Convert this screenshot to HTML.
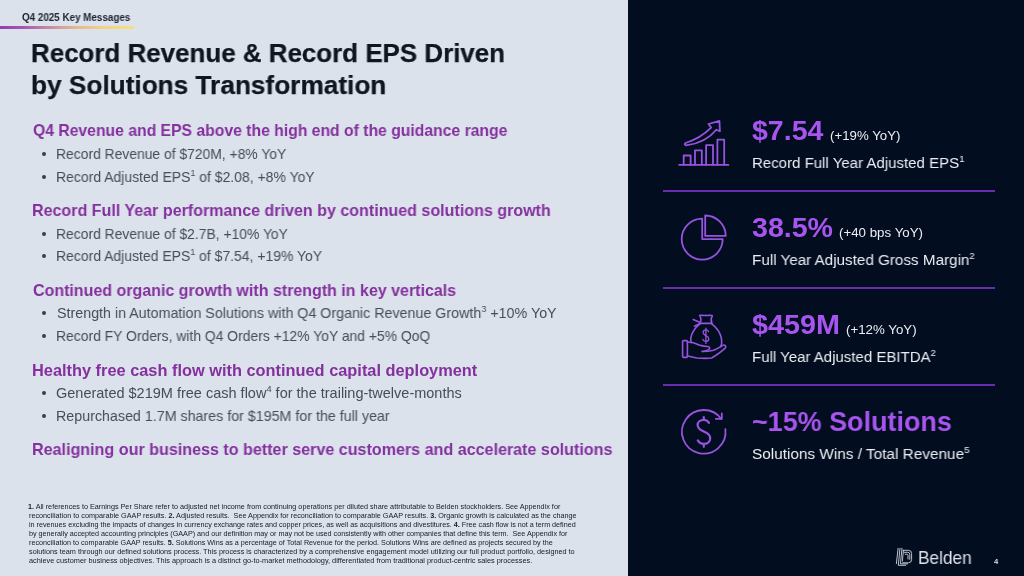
<!DOCTYPE html>
<html><head><meta charset="utf-8"><title>Q4 2025 Key Messages</title>
<style>
html,body{margin:0;padding:0;background:#dbe2eb}
body{width:1024px;height:576px;position:relative;overflow:hidden;background:#dbe2eb;font-family:"Liberation Sans",sans-serif}
.t{position:absolute;white-space:nowrap;line-height:1;margin:0;will-change:transform}
.sup{position:relative;display:inline-block;line-height:0}
.panel{position:absolute;left:628px;top:0;width:396px;height:576px;background:#020d20}
.bar{position:absolute;left:0;top:26.4px;width:134.4px;height:2.7px;border-radius:0 1.3px 1.3px 0;background:linear-gradient(90deg,#933db3 0%,#a85aae 18%,#c78fa3 38%,#e3bb90 58%,#f0d484 78%,#f6e07c 100%)}
.dot{position:absolute;width:3.8px;height:3.8px;border-radius:50%;background:#3a3f48;left:42.3px}
.div{position:absolute;left:662.5px;width:332px;height:1.6px;background:#6a2cae}
svg{position:absolute;overflow:visible}
</style></head><body>
<div class="panel"></div>
<div class="bar"></div>

<div class="dot" style="top:152.00px"></div>
<div class="dot" style="top:175.00px"></div>
<div class="dot" style="top:232.00px"></div>
<div class="dot" style="top:254.00px"></div>
<div class="dot" style="top:311.00px"></div>
<div class="dot" style="top:334.00px"></div>
<div class="dot" style="top:391.00px"></div>
<div class="dot" style="top:414.00px"></div>
<div class="div" style="top:189.95px"></div>
<div class="div" style="top:286.95px"></div>
<div class="div" style="top:383.95px"></div>
<div class="t" id="tag" style="left:22.15px;top:13.31px;font-size:10.1px;font-weight:700;color:#1b2230;letter-spacing:0.0000px;transform-origin:0 0;transform:scaleX(0.97488);">Q4 2025 Key Messages</div>
<div class="t" id="t1" style="left:30.87px;top:40.01px;font-size:26.5px;font-weight:700;color:#10161f;letter-spacing:0.0000px;transform-origin:0 0;transform:scaleX(0.97843);-webkit-text-stroke:0.25px #10161f;">Record Revenue &amp; Record EPS Driven</div>
<div class="t" id="t2" style="left:30.63px;top:72.01px;font-size:26.5px;font-weight:700;color:#10161f;letter-spacing:0.0000px;transform-origin:0 0;transform:scaleX(0.98907);-webkit-text-stroke:0.25px #10161f;">by Solutions Transformation</div>
<div class="t" id="h1" style="left:32.99px;top:122.01px;font-size:16.3px;font-weight:700;color:#85309f;letter-spacing:0.0000px;transform-origin:0 0;transform:scaleX(0.96568);">Q4 Revenue and EPS above the high end of the guidance range</div>
<div class="t" id="b1" style="left:55.97px;top:147.00px;font-size:14.3px;font-weight:400;color:#474c55;letter-spacing:0.0000px;transform-origin:0 0;transform:scaleX(0.97066);">Record Revenue of $720M, +8% YoY</div>
<div class="t" id="b2" style="left:55.97px;top:170.00px;font-size:14.3px;font-weight:400;color:#474c55;letter-spacing:0.0000px;transform-origin:0 0;transform:scaleX(0.97733);">Record Adjusted EPS<span class="sup" style="font-size:0.64em;top:-0.625em">1</span> of $2.08, +8% YoY</div>
<div class="t" id="h2" style="left:32.27px;top:202.01px;font-size:16.3px;font-weight:700;color:#85309f;letter-spacing:0.0000px;transform-origin:0 0;transform:scaleX(0.98577);">Record Full Year performance driven by continued solutions growth</div>
<div class="t" id="b3" style="left:55.97px;top:227.00px;font-size:14.3px;font-weight:400;color:#474c55;letter-spacing:0.0000px;transform-origin:0 0;transform:scaleX(0.97084);">Record Revenue of $2.7B, +10% YoY</div>
<div class="t" id="b4" style="left:55.97px;top:249.00px;font-size:14.3px;font-weight:400;color:#474c55;letter-spacing:0.0000px;transform-origin:0 0;transform:scaleX(0.97636);">Record Adjusted EPS<span class="sup" style="font-size:0.64em;top:-0.625em">1</span> of $7.54, +19% YoY</div>
<div class="t" id="h3" style="left:33.01px;top:282.01px;font-size:16.3px;font-weight:700;color:#85309f;letter-spacing:0.0000px;transform-origin:0 0;transform:scaleX(0.98247);">Continued organic growth with strength in key verticals</div>
<div class="t" id="b5" style="left:56.62px;top:306.00px;font-size:14.3px;font-weight:400;color:#474c55;letter-spacing:0.0000px;transform-origin:0 0;transform:scaleX(0.99790);">Strength in Automation Solutions with Q4 Organic Revenue Growth<span class="sup" style="font-size:0.64em;top:-0.625em">3</span> +10% YoY</div>
<div class="t" id="b6" style="left:55.97px;top:329.00px;font-size:14.3px;font-weight:400;color:#474c55;letter-spacing:0.0000px;transform-origin:0 0;transform:scaleX(0.97239);">Record FY Orders, with Q4 Orders +12% YoY and +5% QoQ</div>
<div class="t" id="h4" style="left:32.26px;top:362.01px;font-size:16.3px;font-weight:700;color:#85309f;letter-spacing:0.0000px;transform-origin:0 0;transform:scaleX(1.00452);">Healthy free cash flow with continued capital deployment</div>
<div class="t" id="b7" style="left:56.14px;top:386.00px;font-size:14.3px;font-weight:400;color:#474c55;letter-spacing:0.0000px;transform-origin:0 0;transform:scaleX(1.01431);">Generated $219M free cash flow<span class="sup" style="font-size:0.64em;top:-0.625em">4</span> for the trailing-twelve-months</div>
<div class="t" id="b8" style="left:55.97px;top:409.00px;font-size:14.3px;font-weight:400;color:#474c55;letter-spacing:0.0000px;transform-origin:0 0;transform:scaleX(0.99741);">Repurchased 1.7M shares for $195M for the full year</div>
<div class="t" id="h5" style="left:32.27px;top:441.01px;font-size:16.3px;font-weight:700;color:#85309f;letter-spacing:0.0000px;transform-origin:0 0;transform:scaleX(0.98846);">Realigning our business to better serve customers and accelerate solutions</div>
<div class="t" id="f0" style="left:28.31px;top:503.36px;font-size:7.2px;font-weight:400;color:#141a23;letter-spacing:0.0000px;transform-origin:0 0;transform:scaleX(1.00704);"><b>1.</b> All references to Earnings Per Share refer to adjusted net income from continuing operations per diluted share attributable to Belden stockholders. See Appendix for</div>
<div class="t" id="f1" style="left:28.90px;top:512.36px;font-size:7.2px;font-weight:400;color:#141a23;letter-spacing:0.0000px;transform-origin:0 0;transform:scaleX(1.00683);">reconciliation to comparable GAAP results. <b>2.</b> Adjusted results.&nbsp; See Appendix for reconciliation to comparable GAAP results. <b>3.</b> Organic growth is calculated as the change</div>
<div class="t" id="f2" style="left:28.95px;top:521.36px;font-size:7.2px;font-weight:400;color:#141a23;letter-spacing:0.0000px;transform-origin:0 0;transform:scaleX(1.00105);">in revenues excluding the impacts of changes in currency exchange rates and copper prices, as well as acquisitions and divestitures. <b>4.</b> Free cash flow is not a term defined</div>
<div class="t" id="f3" style="left:28.98px;top:530.36px;font-size:7.2px;font-weight:400;color:#141a23;letter-spacing:0.0000px;transform-origin:0 0;transform:scaleX(1.00191);">by generally accepted accounting principles (GAAP) and our definition may or may not be used consistently with other companies that define this term.&nbsp; See Appendix for</div>
<div class="t" id="f4" style="left:28.90px;top:539.36px;font-size:7.2px;font-weight:400;color:#141a23;letter-spacing:0.0000px;transform-origin:0 0;transform:scaleX(1.00099);">reconciliation to comparable GAAP results. <b>5.</b> Solutions Wins as a percentage of Total Revenue for the period. Solutions Wins are defined as projects secured by the</div>
<div class="t" id="f5" style="left:28.68px;top:548.36px;font-size:7.2px;font-weight:400;color:#141a23;letter-spacing:0.0000px;transform-origin:0 0;transform:scaleX(1.01191);">solutions team through our defined solutions process. This process is characterized by a comprehensive engagement model utilizing our full product portfolio, designed to</div>
<div class="t" id="f6" style="left:28.52px;top:557.36px;font-size:7.2px;font-weight:400;color:#141a23;letter-spacing:0.0000px;transform-origin:0 0;transform:scaleX(1.02073);">achieve customer business objectives. This approach is a distinct go-to-market methodology, differentiated from traditional product-centric sales processes.</div>
<div class="t" id="r0a" style="left:751.75px;top:117.00px;font-size:28px;font-weight:700;color:#a855f0;letter-spacing:0.0000px;transform-origin:0 0;transform:scaleX(1.01846);">$7.54</div>
<div class="t" id="r0b" style="left:829.89px;top:129.00px;font-size:13.2px;font-weight:400;color:#eceef3;letter-spacing:0.0000px;transform-origin:0 0;transform:scaleX(1.00576);">(+19% YoY)</div>
<div class="t" id="r0c" style="left:752.00px;top:155.01px;font-size:15.4px;font-weight:400;color:#eceef3;letter-spacing:0.0000px;transform-origin:0 0;transform:scaleX(0.97596);">Record Full Year Adjusted EPS<span class="sup" style="font-size:0.64em;top:-0.625em">1</span></div>
<div class="t" id="r1a" style="left:751.89px;top:214.00px;font-size:28px;font-weight:700;color:#a855f0;letter-spacing:0.0000px;transform-origin:0 0;transform:scaleX(1.02046);">38.5%</div>
<div class="t" id="r1b" style="left:838.87px;top:226.00px;font-size:13.2px;font-weight:400;color:#eceef3;letter-spacing:0.0000px;transform-origin:0 0;transform:scaleX(1.00950);">(+40 bps YoY)</div>
<div class="t" id="r1c" style="left:752.00px;top:252.01px;font-size:15.4px;font-weight:400;color:#eceef3;letter-spacing:0.0000px;transform-origin:0 0;transform:scaleX(0.98869);">Full Year Adjusted Gross Margin<span class="sup" style="font-size:0.64em;top:-0.625em">2</span></div>
<div class="t" id="r2a" style="left:751.73px;top:311.00px;font-size:28px;font-weight:700;color:#a855f0;letter-spacing:0.0000px;transform-origin:0 0;transform:scaleX(1.02816);">$459M</div>
<div class="t" id="r2b" style="left:846.39px;top:323.00px;font-size:13.2px;font-weight:400;color:#eceef3;letter-spacing:0.0000px;transform-origin:0 0;transform:scaleX(1.00867);">(+12% YoY)</div>
<div class="t" id="r2c" style="left:752.00px;top:349.01px;font-size:15.4px;font-weight:400;color:#eceef3;letter-spacing:0.0000px;transform-origin:0 0;transform:scaleX(0.97559);">Full Year Adjusted EBITDA<span class="sup" style="font-size:0.64em;top:-0.625em">2</span></div>
<div class="t" id="r3a" style="left:752.00px;top:408.00px;font-size:28px;font-weight:700;color:#a855f0;letter-spacing:0.0000px;transform-origin:0 0;transform:scaleX(0.96192);">~15% Solutions</div>
<div class="t" id="r3c" style="left:751.94px;top:446.01px;font-size:15.4px;font-weight:400;color:#eceef3;letter-spacing:0.0000px;transform-origin:0 0;transform:scaleX(0.99721);">Solutions Wins / Total Revenue<span class="sup" style="font-size:0.64em;top:-0.625em">5</span></div>
<div class="t" id="logo" style="left:917.50px;top:549.51px;font-size:17.8px;font-weight:400;color:#dde1e9;letter-spacing:0.0000px;transform-origin:0 0;transform:scaleX(0.96957);">Belden</div>
<div class="t" id="pg" style="left:994.00px;top:557.50px;font-size:7.6px;font-weight:700;color:#d5d9e2;letter-spacing:0.0000px;transform-origin:0 0;transform:scaleX(1.00000);">4</div>
<svg width="1024" height="576" viewBox="0 0 1024 576" style="left:0;top:0" fill="none" stroke="#9653df" stroke-width="1.8" stroke-linecap="round" stroke-linejoin="round">
<!-- icon 1: bar chart with arrow -->
<g id="ic1">
<path d="M679.2 164.9H728.4"/>
<path d="M683.7 164.9V155.5H690.6V164.9"/>
<path d="M695 164.9V150.3H701.8V164.9"/>
<path d="M706.1 164.9V145.1H713V164.9"/>
<path d="M717.4 164.9V139.7H724.2V164.9"/>
<path d="M685.6 143Q700.5 138.2 711.1 127.6L708.5 124L719.4 120.9L719.9 131.3L716.3 129.7Q706 142.6 686.2 145.4Q683.6 144.4 685.6 143Z"/>
</g>
<!-- icon 2: pie -->
<g id="ic2">
<path d="M702.2 218.6A20.5 20.5 0 1 0 722.7 239.1H702.2Z"/>
<path d="M705.2 215.5V235.9H725.7A20.5 20.5 0 0 0 705.2 215.5Z"/>
</g>
<!-- icon 3: hand with money bag -->
<g id="ic3" stroke-width="1.6">
<rect x="682.6" y="340.6" width="4.8" height="16.8" rx="0.8"/>
<path d="M687.4 342C692 341.8 695.5 343.2 699.1 345C702 346.2 705 346.3 707.9 346.5C710.2 346.8 710.2 349 708.6 349.6C706.5 350.6 704.5 351.2 702.2 351.5"/>
<path d="M702.2 351.5C706 351.4 710 351 713.7 350.2C717 349 720 347 722.6 345.4C725 344.2 726.8 346.6 725 348.4C720.8 352 716.4 355.4 711.6 358C706.6 358.6 701.8 358.4 697 358C693.6 357.4 690.4 356.6 687.4 356"/>
<path d="M700.2 323.6C696 327 691.6 332.4 690.8 338.2C690.6 340 690.8 341.2 691.2 342.4"/>
<path d="M711.4 323.6C716 327 720.2 332.4 721.4 338.2C722 341.6 721.8 344.4 720.8 346.6"/>
<path d="M700 323.4H711.8"/>
<path d="M700.2 323.2C701.4 320.6 701.2 318 699.6 315.4C701.6 314.6 703.6 316.2 705.8 315.2C708 316.2 710.4 314.6 712.4 315.6C710.8 318.2 710.6 320.6 711.8 323.2"/>
<path d="M700.2 322.6L693.2 319.6M700 323.4L694.4 326.2"/>
<path d="M708.6 331.6C707.8 330.2 706.4 329.8 705.4 329.9C703.8 330.2 703 331.4 703.2 332.8C703.6 334.6 705 335.2 706 335.6C707.4 336.2 708.8 337 708.8 338.8C708.8 340.4 707.4 341.4 705.8 341.4C704.4 341.4 703.4 340.6 702.9 339.4M705.9 328.2V343.4" stroke-width="1.3"/>
</g>
<!-- icon 4: dollar in circle arrow -->
<g id="ic4">
<path d="M725.4 429.2A21.8 21.8 0 1 1 721.4 419"/>
<path d="M721.8 413.4V418.8H715.8"/>
<path d="M709 422.9C707.8 420.9 706 419.9 703.8 419.9C700.4 419.9 697.6 421.8 697.6 425C697.6 428.6 700.6 430.2 703.8 431.6C707.2 433 710.2 434.6 710.2 438.2C710.2 441.6 707.4 443.9 703.8 443.9C701 443.9 699 442.6 697.8 440.4M703.8 417.2V419.9M703.8 443.9V446.8" stroke-width="2.2"/>
</g>
<!-- logo mark -->
<g id="lg" stroke="#d3d8e2" stroke-width="0.9">
<path d="M898.1 548.3L896.4 563.6"/>
<path d="M900 548.3L898.3 565.3H905.6"/>
<path d="M902 548.3L900.4 563.9H907.6"/>
<path d="M903.2 550.3H908.4Q911.6 550.3 911.6 553.5V559.6Q911.6 562.8 908.4 562.8H902.6"/>
<path d="M904 552.3H907.6Q909.8 552.3 909.8 554.5V559.4"/>
<path d="M905.2 554.2H906.8Q908 554.2 908 555.4V559"/>
<path d="M903.4 550.3L902.4 561"/>
</g>
</svg>

</body></html>
